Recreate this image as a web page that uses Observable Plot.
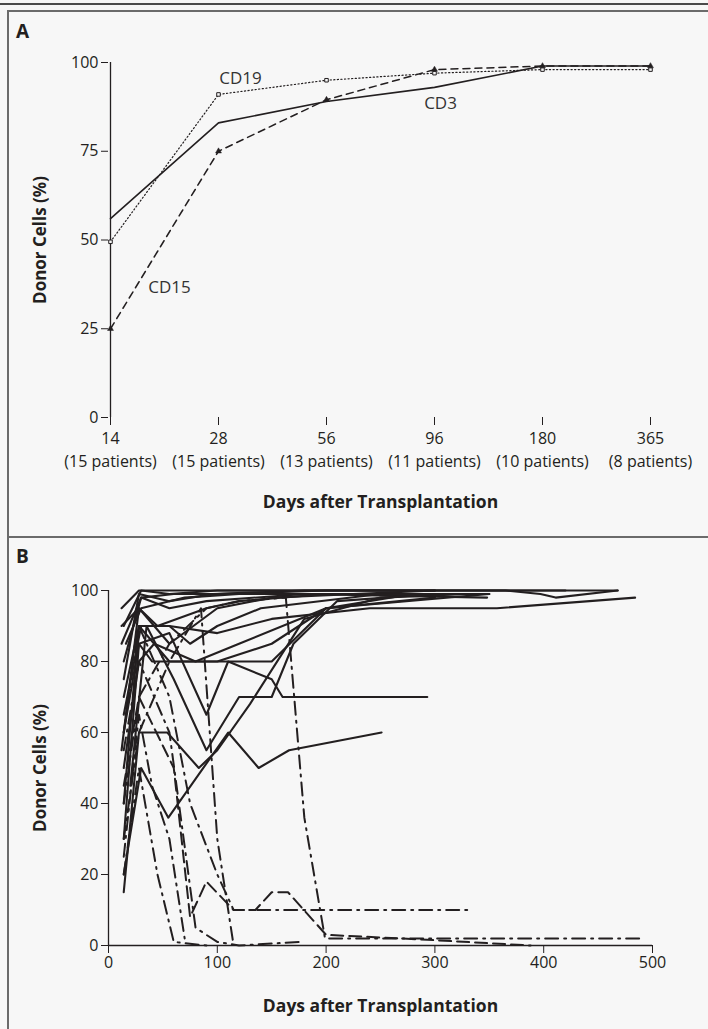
<!DOCTYPE html>
<html><head><meta charset="utf-8">
<script src="https://cdn.jsdelivr.net/npm/d3@7"></script>
<script src="https://cdn.jsdelivr.net/npm/@observablehq/plot@0.6"></script>
<style>
html,body{margin:0;padding:0;background:#f7f7f7;}
#page{position:relative;width:708px;height:1029px;overflow:hidden;font-family:"Open Sans",sans-serif;color:#231f20;}
.topline{position:absolute;left:0;top:3px;width:708px;height:2px;background:#4a4a4a;}
.hline{position:absolute;left:7px;width:701px;height:2px;background:#6b6b6b;}
.vline{position:absolute;left:7px;width:2px;background:#6b6b6b;}
.plbl{position:absolute;left:16px;font-weight:700;font-size:19px;line-height:19px;}
.chart{position:absolute;left:0;}
</style></head>
<body><div id="page">
<div class="topline"></div>
<div class="hline" style="top:10px"></div>
<div class="hline" style="top:536px"></div>
<div class="vline" style="top:10px;height:1019px"></div>
<div class="plbl" style="top:22px">A</div>
<div class="plbl" style="top:547px">B</div>
<div id="chartA" class="chart" style="top:40px"></div>
<div id="chartB" class="chart" style="top:560px"></div>
</div>
<script>
// ---------- Panel A data ----------
const daysA = ["14","28","56","96","180","365"];
const patientsA = [15,15,13,11,10,8];
const cd3 = [56,83,89,93,99,99];
const cd15 = [25,75,89.5,98,99,99];
const cd19 = [49.5,91,95,97,98,98];
const seriesLabels = [
  {text:"CD19", day:"28", v:95.5, dx:22},
  {text:"CD3", day:"96", v:88.5, dx:6},
  {text:"CD15", day:"14", v:36.6, dx:59}
];
// ---------- Panel B data (day, % donor cells) ----------
const solidPatients = [
  [[12,85],[30,98],[60,99],[100,99],[200,100],[300,100],[468,100]],
  [[14,70],[28,90],[56,90],[100,88],[150,92],[240,95],[357,95],[484,98]],
  [[12,95],[28,100],[56,100],[180,100],[365,100],[397,99],[411,98],[468,100]],
  [[14,80],[30,98],[56,95],[90,97],[180,99],[348,98]],
  [[14,30],[28,85],[56,88],[90,65],[110,80],[150,75],[160,70],[174,70],[293,70]],
  [[14,20],[30,50],[55,36],[110,60],[138,50],[166,55],[251,60]],
  [[14,15],[28,60],[54,60],[83,50],[100,55],[130,68],[180,92],[250,98],[330,99]],
  [[14,40],[28,90],[56,80],[100,80],[150,85],[200,95],[300,98]],
  [[12,55],[28,95],[45,90],[90,95],[120,97],[200,99],[320,99]],
  [[14,75],[28,99],[56,97],[96,99],[180,100],[420,100]],
  [[14,60],[28,85],[40,80],[85,80],[150,80],[200,95],[280,99]],
  [[14,90],[30,100],[56,99],[100,100],[300,100]],
  [[20,45],[35,90],[60,75],[90,55],[120,70],[150,70],[170,85],[210,97],[300,99]],
  [[14,65],[30,90],[56,90],[75,85],[100,90],[140,95],[250,99]],
  [[16,85],[30,95],[70,98],[120,99],[350,99]],
  [[14,50],[28,80],[42,85],[80,80],[120,85],[200,95],[350,99]],
  [[12,90],[28,95],[56,85],[100,95],[150,98],[300,100]]
];
const dashDotPatients = [
  [[14,40],[28,70],[56,85],[90,95],[120,97],[163,98],[180,36],[199,2],[490,2]],
  [[14,30],[28,60],[56,80],[85,95],[100,30],[115,0]],
  [[14,20],[28,50],[45,20],[60,1],[90,0]],
  [[14,60],[28,90],[56,70],[75,40],[100,20],[115,10],[330,10]],
  [[14,55],[28,80],[56,60],[80,5],[100,1],[120,0],[175,1]],
  [[14,25],[28,65],[40,45],[56,30],[70,2]]
];
const dashPatients = [
  [[14,45],[28,70],[60,50],[75,8],[90,18],[115,10],[135,10],[150,15],[165,15],[200,3],[300,1.5],[388,0]]
];
const ticksB = [0,20,40,60,80,100];
const ticksBx = [0,100,200,300,400,500];

const ink = "#231f20";
const font = {fontFamily:"'Open Sans', sans-serif", fontSize:"16px", color:ink, background:"transparent", overflow:"visible"};

const rowsA = (vals, name) => daysA.map((d,i)=>({day:d, v:vals[i], name}));
const flat = (list) => list.flatMap((p,k)=>p.map(([d,v])=>({day:d, v, id:k})));

const chartA = Plot.plot({
  width:708, height:490, marginLeft:108, marginRight:56, marginTop:22, marginBottom:113,
  style:font,
  x:{type:"point", domain:daysA, padding:0},
  y:{domain:[0,100]},
  marks:[
    Plot.ruleX([daysA[0]], {y1:0, y2:100, stroke:ink, strokeWidth:1.3}),
    Plot.ruleY([0], {x1:daysA[0], x2:daysA[daysA.length-1], stroke:ink, strokeWidth:1.3}),
    Plot.axisY({ticks:[0,25,50,75,100], tickSize:7, tickPadding:3, fontSize:16, label:null, stroke:ink}),
    Plot.axisX({tickSize:8, tickPadding:3, fontSize:16, lineHeight:1.4, label:null, stroke:ink,
      tickFormat:d=>`${d}\n(${patientsA[daysA.indexOf(d)]} patients)`}),
    Plot.line(rowsA(cd19), {x:"day", y:"v", stroke:ink, strokeWidth:1.2, strokeDasharray:"1.2,2.4"}),
    Plot.line(rowsA(cd15), {x:"day", y:"v", stroke:ink, strokeWidth:1.5, strokeDasharray:"7,5"}),
    Plot.line(rowsA(cd3), {x:"day", y:"v", stroke:ink, strokeWidth:1.6}),
    Plot.dot(rowsA(cd19), {x:"day", y:"v", symbol:"square", r:2, fill:"#f7f7f7", stroke:ink, strokeWidth:1}),
    Plot.dot(rowsA(cd15), {x:"day", y:"v", symbol:"triangle", r:2.2, fill:ink, stroke:ink, strokeWidth:0.5}),
    ...seriesLabels.map(l => Plot.text([l], {x:"day", y:"v", text:"text", dx:l.dx, fontSize:17, fill:"#333"})),
    Plot.text(["Donor Cells (%)"], {frameAnchor:"left", textAnchor:"middle", lineAnchor:"middle", dx:-68, rotate:-90, fontWeight:"bold", fontSize:17, fill:ink}),
    Plot.text(["Days after Transplantation"], {frameAnchor:"bottom", textAnchor:"middle", lineAnchor:"middle", dy:85, fontWeight:"bold", fontSize:17.5, fill:ink})
  ]
});
document.getElementById("chartA").appendChild(chartA);

const chartB = Plot.plot({
  width:708, height:469, marginLeft:108, marginRight:56, marginTop:30, marginBottom:84,
  style:font,
  x:{domain:[0,500]},
  y:{domain:[0,100]},
  marks:[
    Plot.ruleX([0], {y1:0, y2:100, stroke:ink, strokeWidth:1.3}),
    Plot.ruleY([0], {x1:0, x2:500, stroke:ink, strokeWidth:1.3}),
    Plot.axisY({ticks:ticksB, tickSize:7, tickPadding:3, fontSize:16, label:null, stroke:ink}),
    Plot.axisX({ticks:ticksBx, tickSize:8, tickPadding:3, fontSize:16, label:null, stroke:ink}),
    Plot.line(flat(dashDotPatients), {x:"day", y:"v", z:"id", stroke:ink, strokeWidth:2, strokeDasharray:"13,6,2,6"}),
    Plot.line(flat(dashPatients), {x:"day", y:"v", z:"id", stroke:ink, strokeWidth:2, strokeDasharray:"12,6"}),
    Plot.line(flat(solidPatients), {x:"day", y:"v", z:"id", stroke:ink, strokeWidth:2.1}),
    Plot.text(["Donor Cells (%)"], {frameAnchor:"left", textAnchor:"middle", lineAnchor:"middle", dx:-68, rotate:-90, fontWeight:"bold", fontSize:17, fill:ink}),
    Plot.text(["Days after Transplantation"], {frameAnchor:"bottom", textAnchor:"middle", lineAnchor:"middle", dy:61, fontWeight:"bold", fontSize:17.5, fill:ink})
  ]
});
document.getElementById("chartB").appendChild(chartB);
</script>
</body></html>
